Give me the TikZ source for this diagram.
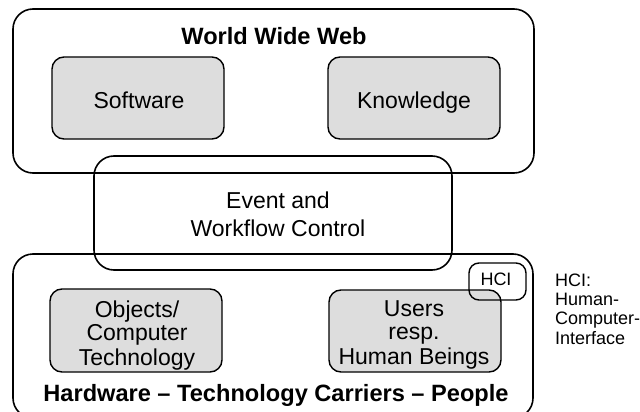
\documentclass[tikz,border=0pt]{standalone}
\usepackage{fontspec}
\setmainfont{Liberation Sans}
\definecolor{boxgray}{RGB}{221,221,221}
\begin{document}
\begin{tikzpicture}[x=1pt,y=-1pt,
  outerbox/.style={draw, line width=1.6pt, rounded corners=20pt, inner sep=0pt},
  innerbox/.style={draw, fill=boxgray, line width=1.4pt, rounded corners=12pt, inner sep=0pt},
  hcibox/.style={draw, line width=1.4pt, rounded corners=10pt, inner sep=0pt},
  maintext/.style={font=\fontsize{23}{23}\selectfont, inner sep=0pt, align=center},
  titletext/.style={font=\fontsize{23.6}{24}\selectfont\bfseries, inner sep=0pt},
  smalltext/.style={font=\fontsize{18}{19.2}\selectfont, inner sep=0pt}]
\clip (0,0) rectangle (640,412);

% outer frames
\node[outerbox, minimum width=521pt, minimum height=164pt] (www) at (273.5,91) {};
\node[outerbox, minimum width=520pt, minimum height=164pt] (hw) at (273,336) {};

% grey component boxes
\node[innerbox, minimum width=172pt, minimum height=82pt] (sw) at (138,98) {};
\node[innerbox, minimum width=172pt, minimum height=82pt] (kn) at (414,98) {};
\node[innerbox, minimum width=172pt, minimum height=83pt] (obj) at (136,330.5) {};
\node[innerbox, minimum width=172pt, minimum height=82pt] (usr) at (415,331) {};

% control layer spanning both frames
\node[outerbox, minimum width=358pt, minimum height=114pt] (ev) at (273,213) {};

% human-computer interface
\node[hcibox, minimum width=57pt, minimum height=37pt] (hci) at (497.5,281.5) {};

% labels
\node[titletext, anchor=base] (wwwlabel) at (274,45) {World Wide Web};
\node[maintext, anchor=base] (swlabel) at (139,108.5) {Software};
\node[maintext, anchor=base] (knlabel) at (414,108.5) {Knowledge};
\node[maintext, font=\fontsize{23}{28}\selectfont] (evlabel) at (278,217)
  {\strut Event and\\\strut Workflow Control};
\node[maintext] (objlabel) at (137,336.5)
  {\strut Objects/\\\strut Computer\\\strut Technology};
\node[maintext] (usrlabel) at (414,336)
  {\strut Users\\\strut resp.\\\strut Human Beings};
\node[titletext, anchor=base] (hwlabel) at (276,401.5)
  {Hardware -- Technology Carriers -- People};
\node[smalltext, anchor=base] (hcilabel) at (496,285.5) {HCI};
\node[smalltext, align=left, anchor=west] (legend) at (555,311.4)
  {\strut HCI:\\\strut Human-\\\strut Computer-\\\strut Interface};
\end{tikzpicture}
\end{document}
